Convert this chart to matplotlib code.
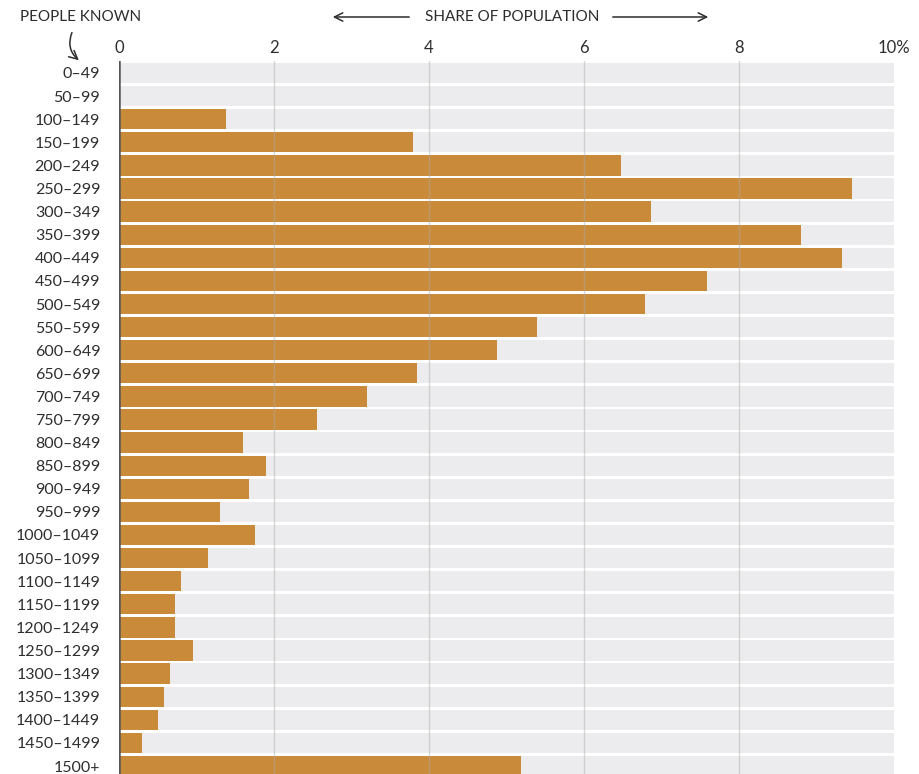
import matplotlib
matplotlib.use("Agg")
import matplotlib.pyplot as plt
from matplotlib.patches import FancyArrowPatch

categories = ["0–49", "50–99", "100–149", "150–199", "200–249", "250–299", "300–349",
              "350–399", "400–449", "450–499", "500–549", "550–599", "600–649", "650–699",
              "700–749", "750–799", "800–849", "850–899", "900–949", "950–999",
              "1000–1049", "1050–1099", "1100–1149", "1150–1199", "1200–1249",
              "1250–1299", "1300–1349", "1350–1399", "1400–1449", "1450–1499", "1500+"]
values = [0, 0, 1.38, 3.79, 6.48, 9.46, 6.86, 8.80, 9.33, 7.58, 6.78, 5.39, 4.88, 3.85,
          3.20, 2.55, 1.60, 1.89, 1.68, 1.30, 1.75, 1.15, 0.80, 0.72, 0.72, 0.95,
          0.66, 0.58, 0.50, 0.30, 5.18]
xticks = [0, 2, 4, 6, 8, 10]
xticklabels = ["0", "2", "4", "6", "8", "10%"]

plt.rcParams['font.family'] = ['Lato', 'DejaVu Sans']
TXT = "#2e2e2e"
W, H = 919, 774
fig = plt.figure(figsize=(W / 100, H / 100), dpi=100)

n = len(categories)
pitch = 23.1
top_px = 73 - pitch / 2
bot_px = top_px + pitch * n
left_px, right_px = 119, 896.5
ax = fig.add_axes([left_px / W, (H - bot_px) / H, (right_px - left_px) / W, (bot_px - top_px) / H])

ypos = list(range(n))
ax.barh(ypos, [10] * n, height=0.88, color="#ececee", zorder=1)
ax.barh(ypos, values, height=0.88, color="#c98b3a", zorder=2)
for x in xticks[1:-1]:
    ax.axvline(x, color="#aaaaaa", lw=1.0, alpha=0.45, zorder=3)
ax.axvline(0, color="#555555", lw=1.8, zorder=4)

ax.set_xlim(0, 10.03)
ax.set_ylim(n - 0.5, -0.5)
for s in ax.spines.values():
    s.set_visible(False)
ax.set_yticks(ypos)
ax.set_yticklabels(categories, fontsize=11.5, color=TXT)
ax.xaxis.tick_top()
ax.set_xticks(xticks)
ax.set_xticklabels(xticklabels, fontsize=12, color=TXT)
ax.tick_params(axis="both", length=0)
ax.tick_params(axis="y", pad=13.5)
ax.tick_params(axis="x", pad=4)

# header texts
fig.text(20 / W, 1 - 17 / H, "PEOPLE KNOWN", fontsize=11, color=TXT, ha="left", va="center")
fig.text(512 / W, 1 - 17 / H, "SHARE OF POPULATION", fontsize=11, color=TXT, ha="center", va="center")
arrow_kw = dict(transform=fig.transFigure, arrowstyle="->,head_length=0.5,head_width=0.25",
                color=TXT, lw=1.1, mutation_scale=12)
fig.patches.append(FancyArrowPatch((412 / W, 1 - 17 / H), (330 / W, 1 - 17 / H), **arrow_kw))
fig.patches.append(FancyArrowPatch((610 / W, 1 - 17 / H), (711 / W, 1 - 17 / H), **arrow_kw))
fig.patches.append(FancyArrowPatch((73 / W, 1 - 30 / H), (81 / W, 1 - 62 / H),
                                   connectionstyle="arc3,rad=0.4", **arrow_kw))

fig.savefig("out.png", dpi=100, facecolor="white")
